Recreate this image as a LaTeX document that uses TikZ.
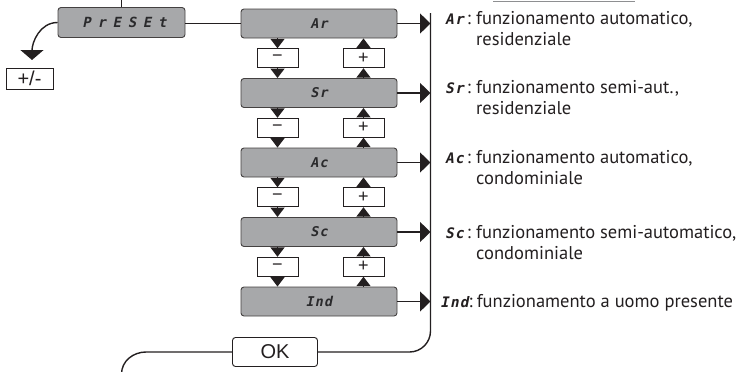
\documentclass[tikz,border=0pt]{standalone}
\usepackage{fontspec}
\setmainfont{PT Sans}
\newfontfamily\keyfont{Liberation Sans}
\newfontfamily\segfont[FakeSlant=0.2,LetterSpace=8]{DejaVu Sans Mono}
\newfontfamily\presetfont[FakeSlant=0.2,LetterSpace=48]{DejaVu Sans Mono}
\usetikzlibrary{arrows.meta}

\definecolor{ink}{HTML}{231F20}
\definecolor{lcd}{HTML}{A7A8AA}
\definecolor{lcdink}{HTML}{2A2A2C}
\definecolor{rule}{HTML}{8E8F91}

% code of a mode followed by a colon
\newcommand\codeglyphs[1]{{\segfont\bfseries\fontsize{14.5}{14.5}\selectfont #1}}
\newcommand\codetag[1]{\makebox[31pt][l]{\codeglyphs{#1}\,:}}

\tikzset{
  display/.style={draw=ink!85, fill=lcd, rounded corners=3pt, line width=0.9pt,
    minimum width=156pt, minimum height=29pt, inner sep=0pt, text=lcdink,
    font=\segfont\bfseries\fontsize{13.5}{13.5}\selectfont},
  keybox/.style={draw=ink, fill=white, line width=0.9pt, minimum width=41pt,
    minimum height=19pt, inner sep=0pt, text=ink, font=\keyfont\fontsize{18}{18}\selectfont},
  wire/.style={draw=ink, line width=1.4pt},
  steptip/.style={-{Triangle[width=14pt,length=9.5pt]}},
  sidetip/.style={-{Triangle[width=20pt,length=10.5pt]}},
  note/.style={anchor=base west, inner sep=0pt, text=ink, font=\fontsize{18.5}{21}\selectfont},
}

\begin{document}
\begin{tikzpicture}[x=1pt,y=-1pt]
\useasboundingbox (0,0) rectangle (739,372);

% partial rule at the top edge
\draw[rule, line width=1pt] (493,1) -- (635,1);

% PRESET display and its exits
\node[display, minimum width=127pt, minimum height=30pt, font=\presetfont\bfseries\fontsize{14}{14}\selectfont]
  (preset) at (121.5,22.5) {\hspace{6pt}PrESEt};
\coordinate (looptop) at (121.5,-2);
\draw[wire] (looptop) -- (preset.north);

\node[keybox, minimum width=47pt, minimum height=21pt, font=\keyfont\fontsize{20}{20}\selectfont]
  (pm) at (29.5,78.5) {+/-};
\coordinate (pmtip) at (32,60);
\draw[wire, -{Triangle[width=23pt,length=10pt]}] (preset.west) to[out=180,in=90] (pmtip);

% parameter displays
\node[display] (ar)  at (319,23.5)  {Ar};
\node[display] (sr)  at (319,93)    {Sr};
\node[display] (ac)  at (319,162.5) {Ac};
\node[display] (sc)  at (319,232)   {Sc};
\node[display] (ind) at (319,301.5) {Ind};

\draw[wire] (ar.west -| preset.east) -- (ar.west);

% minus / plus keys between displays
\foreach \k/\up/\dn/\y in {1/ar/sr/58.25, 2/sr/ac/127.75, 3/ac/sc/197.25, 4/sc/ind/266.75}{
  \node[keybox] (m\k) at (277.5,\y) {−};
  \node[keybox] (p\k) at (363.5,\y) {+};
  \draw[wire, steptip] (\up.south -| m\k.north) -- (m\k.north);
  \draw[wire, steptip] (m\k.south) -- (m\k.south |- \dn.north);
  \draw[wire, steptip] (p\k.north) -- (p\k.north |- \up.south);
  \draw[wire, steptip] (\dn.north -| p\k.south) -- (p\k.south);
}

% collecting line on the right
\coordinate (bustop) at (430.5,13);
\coordinate (buscorner) at (430.5,352);
\foreach \d in {ar,sr,ac,sc,ind}{
  \draw[wire, sidetip] (\d.east) -- (\d.east -| bustop);
}

% OK key and return loop
\node[keybox, minimum width=85pt, minimum height=29pt, rounded corners=3pt,
  font=\keyfont\fontsize{20}{20}\selectfont] (ok) at (275,352) {OK};
\draw[wire, rounded corners=21pt] (bustop) -- (buscorner) -- (ok.east);
\coordinate (loopbend) at (146,352);
\coordinate (loopend) at (121.5,374);
\draw[wire] (ok.west) -- (loopbend) to[out=180,in=90] (loopend);

% descriptions
\node[note] (tar) at (445,24) {\begin{tabular}[t]{@{}l@{}l@{}}\codetag{Ar}&funzionamento automatico,\\&residenziale\end{tabular}};
\node[note] (tsr) at (445,93.5) {\begin{tabular}[t]{@{}l@{}l@{}}\codetag{Sr}&funzionamento semi-aut.,\\&residenziale\end{tabular}};
\node[note] (tac) at (445,163) {\begin{tabular}[t]{@{}l@{}l@{}}\codetag{Ac}&funzionamento automatico,\\&condominiale\end{tabular}};
\node[note] (tsc) at (445,238.5) {\begin{tabular}[t]{@{}l@{}l@{}}\codetag{Sc}&funzionamento semi-automatico,\\&condominiale\end{tabular}};
\node[note] (tind) at (440,307) {\codeglyphs{Ind}:\hspace{4pt}funzionamento a uomo presente};
\end{tikzpicture}
\end{document}
